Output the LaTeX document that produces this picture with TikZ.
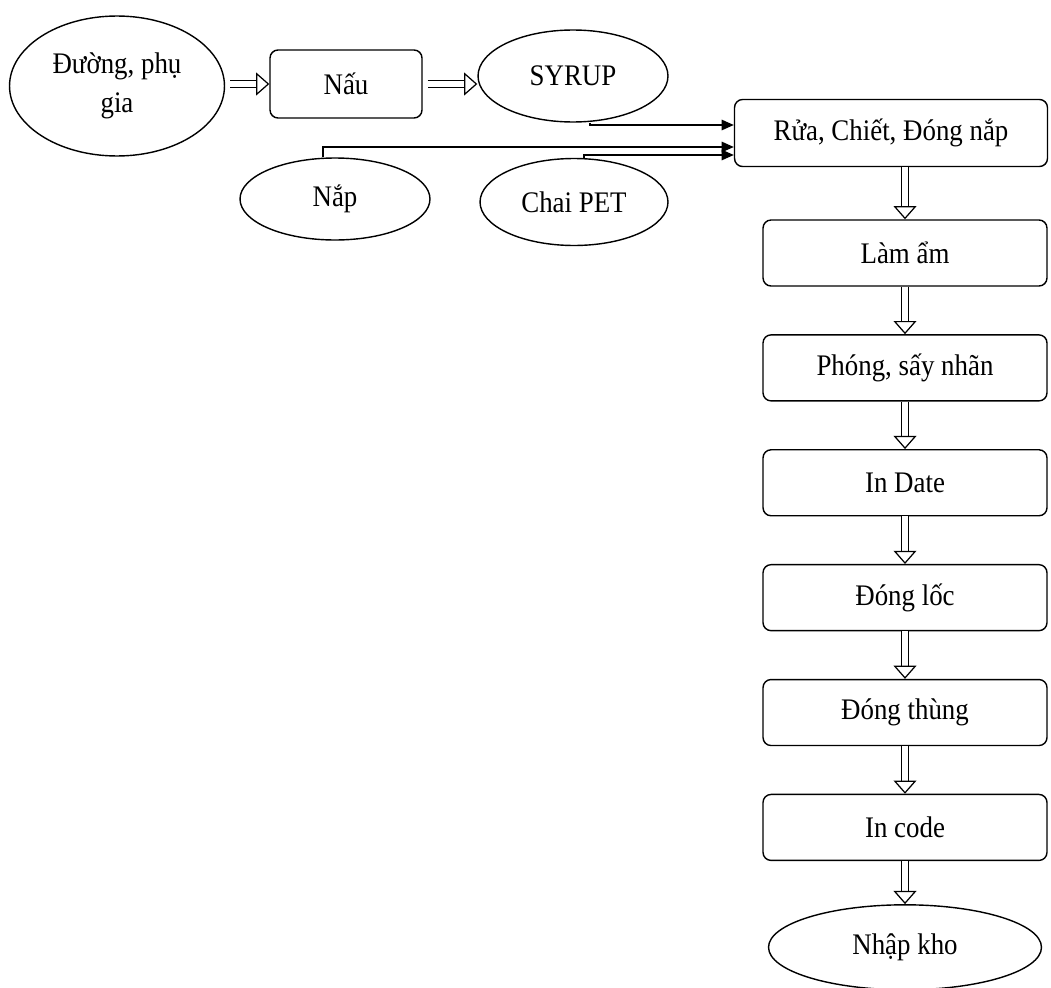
\documentclass[tikz,border=0pt]{standalone}
\usepackage{fontspec}
\setmainfont[FakeStretch=0.9]{Liberation Serif}
\usetikzlibrary{shapes.geometric,arrows.meta,positioning}

\begin{document}
\begin{tikzpicture}[
    x=0.02cm, y=-0.02cm,
    node distance=0.95cm,
    font=\fontsize{17}{20}\selectfont,
    box/.style={rectangle, draw, line width=0.8pt, rounded corners=0.16cm, minimum width=5.68cm, minimum height=1.32cm, align=center},
    oval/.style={ellipse, draw, line width=0.8pt, inner sep=0pt, align=center},
    flow/.style={double, double distance=3.5pt, line width=0.7pt, -{Triangle[open, fill=white, length=7.5pt, width=13pt, line width=0.7pt]}},
    feed/.style={->, >={Triangle[length=7pt, width=6pt]}, line width=0.8pt}
]
    \useasboundingbox (0,0) rectangle (1051,987);

    \node[oval, minimum width=4.3cm, minimum height=2.8cm] (duong) at (117,86) {Đường, phụ\\[2pt]gia};
    \node[box, minimum width=3.04cm, minimum height=1.36cm] (nau) at (346,84) {Nấu};
    \node[oval, minimum width=3.8cm, minimum height=1.84cm] (syrup) at (573,76) {SYRUP};
    \node[box, minimum width=6.26cm, minimum height=1.34cm] (rua) at (891,133) {Rửa, Chiết, Đóng nắp};
    \node[oval, minimum width=3.8cm, minimum height=1.64cm] (nap) at (335,199) {Nắp};
    \node[oval, minimum width=3.76cm, minimum height=1.74cm] (chai) at (574,202) {Chai PET};

    \node[box] (lamam) at (905,253) {Làm ẩm};
    \node[box, below=of lamam] (phong) {Phóng, sấy nhãn};
    \node[box, below=of phong] (indate) {In Date};
    \node[box, below=of indate] (dongloc) {Đóng lốc};
    \node[box, below=of dongloc] (dongthung) {Đóng thùng};
    \node[box, below=of dongthung] (incode) {In code};
    \node[oval, minimum width=5.46cm, minimum height=1.7cm, below=0.86cm of incode] (nhapkho) {Nhập kho};

    \draw[flow, shorten <=0.1cm] (duong.east |- nau.west) -- (nau.west);
    \draw[flow, shorten <=0.1cm] (nau.east) -- (nau.east -| syrup.west);

    \draw[feed] ([xshift=0.34cm]syrup.south) |- ([yshift=0.16cm]rua.west);
    \draw[feed] ([xshift=-0.24cm]nap.north) |- ([yshift=-0.28cm]rua.west);
    \draw[feed] ([xshift=0.2cm]chai.north) |- ([yshift=-0.44cm]rua.west);

    \draw[flow] (rua.south -| lamam.north) -- (lamam.north);
    \draw[flow] (lamam) -- (phong);
    \draw[flow] (phong) -- (indate);
    \draw[flow] (indate) -- (dongloc);
    \draw[flow] (dongloc) -- (dongthung);
    \draw[flow] (dongthung) -- (incode);
    \draw[flow] (incode) -- (nhapkho);
\end{tikzpicture}
\end{document}
